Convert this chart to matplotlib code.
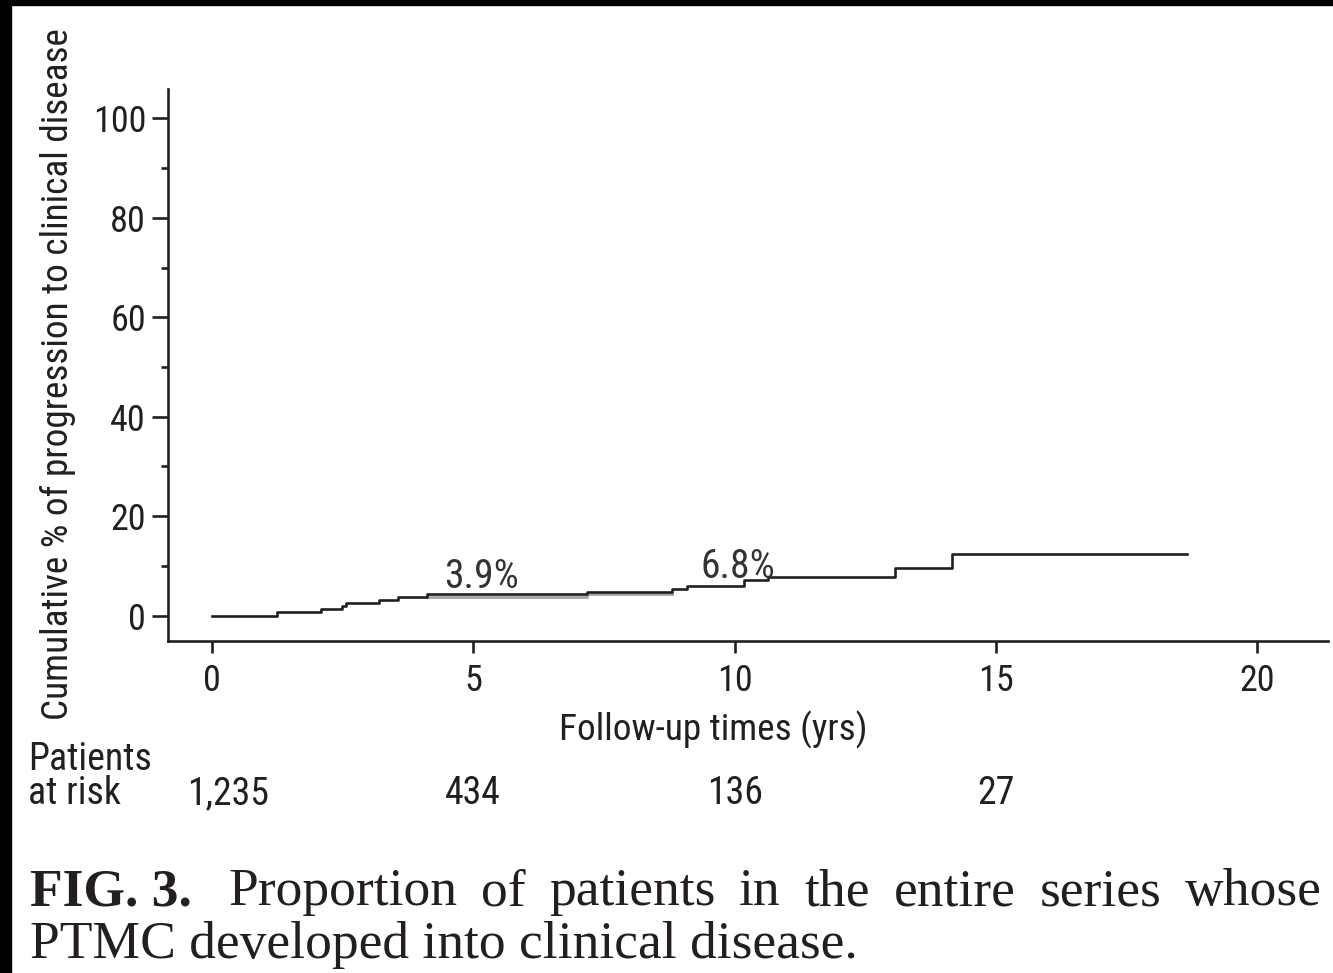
import numpy as np
import matplotlib
matplotlib.use('Agg')
import matplotlib.pyplot as plt
from matplotlib import font_manager
from matplotlib.patches import Rectangle

# cumulative progression curve (years, %)
step_times = [0, 1.24, 2.09, 2.49, 2.56, 3.20, 3.56, 4.11, 7.18, 8.80, 9.09, 10.18, 10.64, 13.07, 14.16]
step_pct = [0, 0.65, 1.25, 1.9, 2.5, 3.05, 3.66, 4.33, 4.67, 5.27, 5.94, 7.14, 7.75, 9.5, 12.3]
end_time = 18.66
# faint grey trace just under the black line
grey_times = [4.11, 7.18, 8.80]
grey_pct = [3.66, 4.33, 4.33]

pct_labels = ['3.9%', '6.8%']
pct_label_x = [5.15, 10.07]
pct_label_y = [5.5, 7.5]

risk_times = [0, 5, 10, 15]
risk_counts = ['1,235', '434', '136', '27']

W, H = 1333, 973
ink = '#231f20'


def pick(fams):
    for f in fams:
        try:
            font_manager.findfont(f, fallback_to_default=False)
            return f
        except Exception:
            pass
    return 'DejaVu Sans'


sans = pick(['Roboto Condensed', 'Liberation Sans'])
k = 1.0 if 'Condensed' in sans else 0.86
serif = pick(['Liberation Serif', 'DejaVu Serif'])
fs_tick = 26 * k
fs_lab = 26.8 * k
fs_risk = 27.3 * k
fs_pct = 28.5 * k


def fx(x):
    return x / W


def fy(y):
    return 1 - y / H


fig = plt.figure(figsize=(W / 100, H / 100), dpi=100)
ax = fig.add_axes([fx(168), fy(641), fx(1328) - fx(168), fy(89) - fy(641)])

ax.step(grey_times, grey_pct, where='post', color='#a9a9a9', lw=2.2, zorder=2)
ax.step(step_times + [end_time], step_pct + [step_pct[-1]], where='post',
        color=ink, lw=1.9, zorder=3)

for s, x, y in zip(pct_labels, pct_label_x, pct_label_y):
    ax.text(x, y, s, ha='center', va='baseline', fontsize=fs_pct, family=sans,
            color='#333333', zorder=4)

ax.set_xlim(-0.84, 21.35)
ax.set_ylim(-5.1, 105.9)
ax.set_xticks([0, 5, 10, 15, 20])
ax.set_yticks([0, 20, 40, 60, 80, 100])
ax.set_yticks(np.arange(10, 100, 20), minor=True)
for sp in ['top', 'right']:
    ax.spines[sp].set_visible(False)
for sp in ['left', 'bottom']:
    ax.spines[sp].set_linewidth(1.9)
    ax.spines[sp].set_color(ink)
ax.tick_params(axis='y', which='major', length=11.5, width=1.9, pad=4.3, color=ink)
ax.tick_params(axis='y', which='minor', length=5, width=1.9, color=ink)
ax.tick_params(axis='x', which='major', length=8.6, width=1.9, pad=7, color=ink)
for lab in ax.get_xticklabels() + ax.get_yticklabels():
    lab.set_fontsize(fs_tick)
    lab.set_family(sans)
    lab.set_color(ink)

fig.text(fx(58), fy(374), 'Cumulative % of progression to clinical disease',
         rotation=90, ha='center', va='center', fontsize=fs_lab, family=sans, color=ink)
fig.text(fx(713), fy(740), 'Follow-up times (yrs)', ha='center', va='baseline',
         fontsize=fs_lab, family=sans, color=ink)

# patients at risk table
fig.text(fx(28), fy(770), 'Patients', ha='left', va='baseline', fontsize=fs_risk,
         family=sans, color=ink)
fig.text(fx(28), fy(804), 'at risk', ha='left', va='baseline', fontsize=fs_risk,
         family=sans, color=ink)
trans = matplotlib.transforms.blended_transform_factory(ax.transData, fig.transFigure)
for t, n in zip(risk_times, risk_counts):
    dx = 0.3 if t == 0 else 0
    fig.text(t + dx, fy(804), n, transform=trans, ha='center', va='baseline',
             fontsize=fs_risk, family=sans, color=ink)

# caption
cap_fs = 38.5
fig.text(fx(30), fy(905), 'FIG. 3.', ha='left', va='baseline', fontsize=cap_fs,
         family=serif, weight='bold', color=ink)
words = 'Proportion of patients in the entire series whose'.split()
objs = [fig.text(0, fy(905), w, ha='left', va='baseline', fontsize=cap_fs,
                 family=serif, color=ink) for w in words]
fig.canvas.draw()
r = fig.canvas.get_renderer()
widths = [o.get_window_extent(r).width for o in objs]
x0, x1 = 228, 1322
gap = (x1 - x0 - sum(widths)) / (len(words) - 1)
x = x0
for o, w in zip(objs, widths):
    o.set_x(fx(x))
    x += w + gap
fig.text(fx(30), fy(958), 'PTMC developed into clinical disease.', ha='left',
         va='baseline', fontsize=cap_fs, family=serif, color=ink)

# black scan borders
fig.patches.append(Rectangle((0, fy(5)), 1, 5 / H, transform=fig.transFigure,
                             color='black', zorder=10))
fig.patches.append(Rectangle((0, 0), fx(11), 1, transform=fig.transFigure,
                             color='black', zorder=10))

fig.savefig('out.png', dpi=100)
